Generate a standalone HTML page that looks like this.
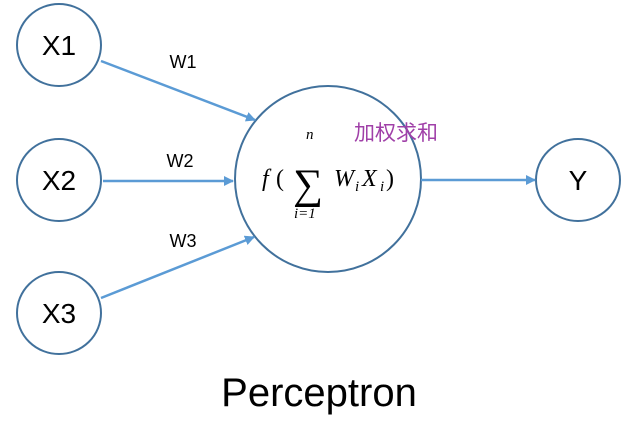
<!DOCTYPE html>
<html><head><meta charset="utf-8"><style>
html,body{margin:0;padding:0;background:#fff;}
svg{display:block;}
</style></head><body>
<svg width="634" height="425" viewBox="0 0 634 425" xmlns="http://www.w3.org/2000/svg">
<defs>
<marker id="a" markerWidth="10" markerHeight="10" refX="9" refY="5" orient="auto" markerUnits="userSpaceOnUse">
<path d="M0,0 L10,5 L0,10 z" fill="#5b9bd5"/>
</marker>
</defs>
<g fill="#fff" stroke="#41719c" stroke-width="2">
<ellipse cx="59" cy="45" rx="42" ry="41"/>
<ellipse cx="59" cy="180" rx="42" ry="41"/>
<ellipse cx="59" cy="313" rx="42" ry="41"/>
<circle cx="328" cy="179" r="93"/>
<ellipse cx="578" cy="180" rx="42" ry="41"/>
</g>
<g stroke="#5b9bd5" stroke-width="2.5" marker-end="url(#a)">
<line x1="101" y1="61" x2="255" y2="120"/>
<line x1="103" y1="181" x2="233" y2="181"/>
<line x1="101" y1="298" x2="254" y2="237"/>
<line x1="421" y1="180" x2="535" y2="180"/>
</g>
<g font-family="Liberation Sans, sans-serif" font-size="28" text-anchor="middle" fill="#000">
<text x="59" y="55">X1</text>
<text x="59" y="190">X2</text>
<text x="59" y="323">X3</text>
<text x="578" y="190">Y</text>
</g>
<g font-family="Liberation Sans, sans-serif" font-size="18" text-anchor="middle" fill="#000">
<text x="183" y="68">W1</text>
<text x="180" y="167">W2</text>
<text x="183" y="247">W3</text>
</g>
<text x="396" y="140" font-family="Liberation Sans, 'Noto Sans CJK SC', sans-serif" font-size="21" fill="#a040a8" text-anchor="middle">加权求和</text>
<g font-family="Liberation Serif, serif" font-style="italic" fill="#000">
<text x="262" y="186" font-size="24">f</text>
<text x="276" y="186" font-size="24" font-style="normal">(</text>
<text x="293" y="198" font-size="42" font-style="normal">∑</text>
<text x="306" y="139" font-size="15">n</text>
<text x="294" y="218" font-size="15">i=1</text>
<text x="334" y="186" font-size="24">W</text>
<text x="355" y="191" font-size="15">i</text>
<text x="362" y="186" font-size="24">X</text>
<text x="380" y="191" font-size="15">i</text>
<text x="386" y="186" font-size="24" font-style="normal">)</text>
</g>
<text x="319" y="406" font-family="Liberation Sans, sans-serif" font-size="40" text-anchor="middle" fill="#000">Perceptron</text>
</svg>
</body></html>
